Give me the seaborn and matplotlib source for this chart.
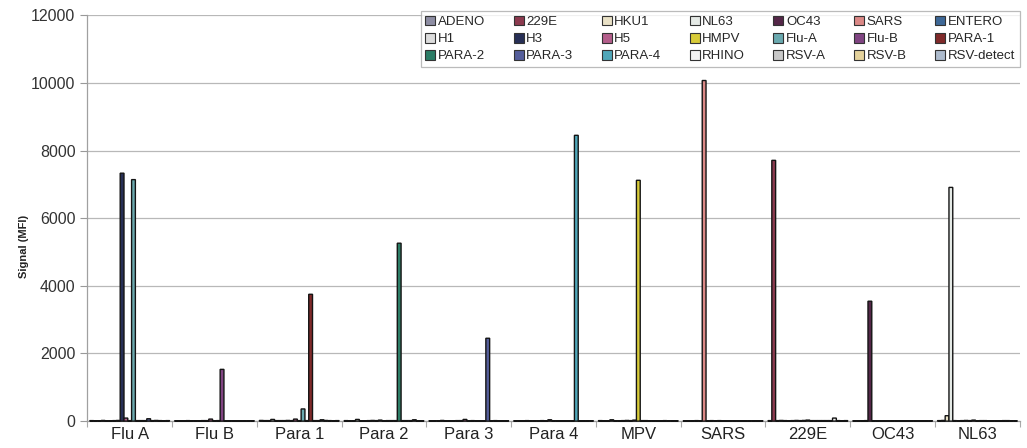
import numpy as np
import pandas as pd
import matplotlib
matplotlib.use("Agg")
import matplotlib.pyplot as plt
import seaborn as sns

# Samples (x groups)
groups = ["Flu A", "Flu B", "Para 1", "Para 2", "Para 3", "Para 4",
          "MPV", "SARS", "229E", "OC43", "NL63"]

# Probe signal per sample (MFI), one list per probe
adeno      = [15, 10, 20, 15, 10, 10, 15, 10, 15, 10, 15]
e229       = [10, 10, 15, 10, 10, 10, 10, 10, 7710, 10, 20]
hku1       = [10, 10, 15, 10, 10, 10, 10, 10, 15, 10, 160]
nl63       = [20, 15, 50, 50, 20, 15, 40, 15, 20, 15, 6910]
oc43       = [10, 10, 15, 10, 10, 10, 10, 10, 15, 3545, 15]
sars       = [10, 10, 15, 10, 10, 10, 10, 10070, 10, 10, 10]
entero     = [15, 10, 15, 15, 10, 10, 15, 10, 15, 10, 15]
h1         = [20, 15, 20, 20, 15, 15, 20, 15, 20, 10, 20]
h3         = [7330, 15, 15, 15, 15, 10, 15, 10, 15, 10, 15]
h5         = [90, 60, 60, 30, 50, 40, 30, 15, 20, 10, 30]
hmpv       = [15, 10, 15, 10, 10, 10, 7120, 10, 30, 10, 10]
flu_a      = [7140, 15, 360, 15, 15, 10, 15, 10, 15, 10, 15]
flu_b      = [15, 1530, 15, 15, 10, 10, 15, 10, 15, 10, 15]
para1      = [15, 10, 3750, 15, 10, 10, 10, 10, 15, 10, 10]
para2      = [15, 10, 15, 5260, 10, 10, 10, 10, 15, 10, 10]
para3      = [70, 10, 15, 15, 2450, 10, 10, 10, 15, 10, 10]
para4      = [15, 10, 40, 15, 10, 8450, 10, 10, 15, 10, 10]
rhino      = [20, 10, 20, 15, 15, 10, 15, 10, 90, 10, 15]
rsv_a      = [15, 10, 15, 40, 10, 10, 10, 10, 15, 10, 15]
rsv_b      = [10, 10, 10, 10, 10, 10, 10, 10, 10, 10, 10]
rsv_detect = [15, 10, 15, 10, 10, 10, 10, 10, 15, 10, 10]

probes = ["ADENO", "229E", "HKU1", "NL63", "OC43", "SARS", "ENTERO",
          "H1", "H3", "H5", "HMPV", "Flu-A", "Flu-B", "PARA-1",
          "PARA-2", "PARA-3", "PARA-4", "RHINO", "RSV-A", "RSV-B", "RSV-detect"]
probe_values = [adeno, e229, hku1, nl63, oc43, sars, entero,
                h1, h3, h5, hmpv, flu_a, flu_b, para1,
                para2, para3, para4, rhino, rsv_a, rsv_b, rsv_detect]

colors = ["#8a8aa6", "#9a2c48", "#efe4c0", "#e4ebe6", "#5c1f4c", "#e97a78", "#2f67a6",
          "#dcdcdc", "#1f2a5e", "#c2508c", "#f2e21e", "#5fb2ba", "#8a3a8c", "#8e1c1c",
          "#1f8a6c", "#4a55a6", "#3fb2ca", "#f2f2f2", "#c8c8c8", "#f0d890", "#a8bad2"]

df = pd.DataFrame({
    "sample": np.repeat([groups], len(probes), axis=0).ravel(),
    "probe": np.repeat(probes, len(groups)),
    "signal": np.concatenate(probe_values),
})

sns.set_style("white")
plt.rcParams["font.family"] = ["Liberation Sans", "DejaVu Sans"]

fig = plt.figure(figsize=(10.27, 4.48), dpi=100)
ax = fig.add_axes([0.085, 0.06, 0.908, 0.906])

sns.barplot(data=df, x="sample", y="signal", hue="probe",
            order=groups, hue_order=probes, palette=colors,
            width=0.94, edgecolor="#141414", linewidth=1.0,
            errorbar=None, ax=ax)
for bar in ax.patches:
    bar.set_zorder(3)
    bar.set_clip_on(False)
    bar.set_snap(False)

ax.set_xlim(-0.5, len(groups) - 0.5)
ax.set_ylim(0, 12000)
ax.set_yticks(range(0, 12001, 2000))
ax.yaxis.grid(True, color="#b8b8b8", linewidth=0.9)
ax.set_axisbelow(True)

ax.set_xlabel("")
ax.set_ylabel("Signal (MFI)", fontsize=8, fontweight="bold", color="#222222")
ax.yaxis.set_label_coords(-0.063, 0.43)
ax.tick_params(axis="y", labelsize=11.5, colors="#333333", length=5, width=0.8,
               color="#999999", direction="out", left=True)
ax.tick_params(axis="x", which="major", labelsize=12, labelcolor="#222222", length=0, pad=4)
ax.set_xticks(np.arange(-0.5, len(groups), 1.0), minor=True)
ax.tick_params(axis="x", which="minor", length=4, color="#aaaaaa", width=0.8, bottom=True)

for side in ("top", "right"):
    ax.spines[side].set_visible(False)
for side in ("left", "bottom"):
    ax.spines[side].set_color("#a0a0a0")
    ax.spines[side].set_linewidth(0.9)
    ax.spines[side].set_zorder(1)

# Legend: 3 rows x 7 columns, filled row by row
handles, labels = ax.get_legend_handles_labels()
ncol, nrow = 7, 3
order = [c + ncol * r for c in range(ncol) for r in range(nrow)]
leg = ax.legend([handles[i] for i in order], [labels[i] for i in order],
                ncol=ncol, loc="upper right", bbox_to_anchor=(1.0, 1.01),
                fontsize=9.5, frameon=True, fancybox=False,
                handlelength=0.75, handleheight=0.75, handletextpad=0.2,
                columnspacing=2.15, labelspacing=0.35, borderpad=0.35,
                borderaxespad=0.0)
leg.get_frame().set_edgecolor("#aaaaaa")
leg.get_frame().set_linewidth(0.9)
leg.set_zorder(5)
for h in leg.legend_handles:
    h.set_edgecolor("#333333")
    h.set_linewidth(0.8)

fig.savefig("out.png", dpi=100)
